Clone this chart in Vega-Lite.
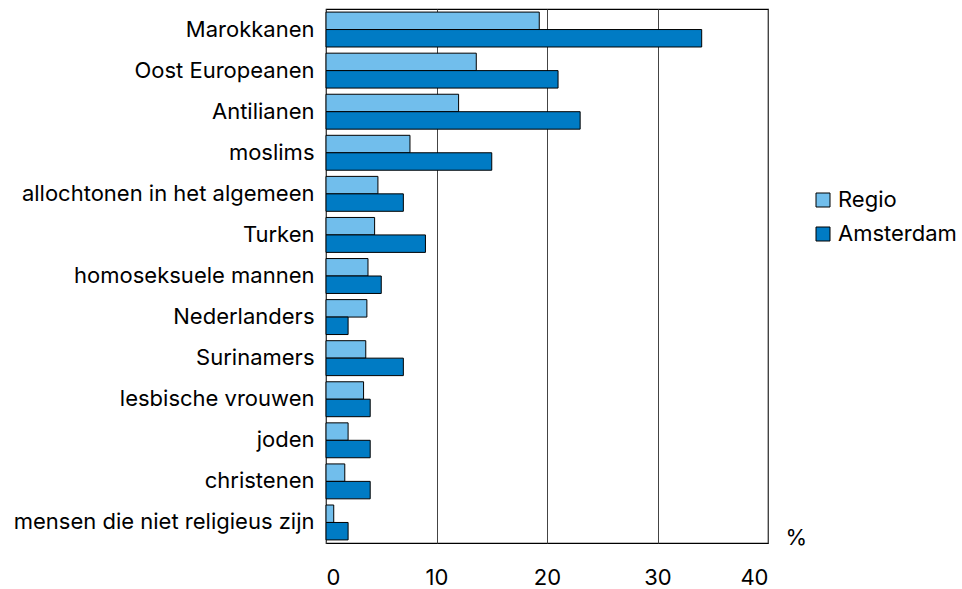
{
  "$schema": "https://vega.github.io/schema/vega-lite/v6.json",
  "autosize": {"type": "none"},
  "width": 442,
  "height": 534,
  "padding": {"left": 326, "top": 9, "right": 194, "bottom": 46},
  "background": "white",
  "config": {
    "font": "Inter",
    "view": {"stroke": "#000", "strokeWidth": 1.2}
  },
  "data": {
    "values": [
      {"groep": "Marokkanen", "bron": "Regio", "pct": 19.3},
      {"groep": "Marokkanen", "bron": "Amsterdam", "pct": 34.0},
      {"groep": "Oost Europeanen", "bron": "Regio", "pct": 13.6},
      {"groep": "Oost Europeanen", "bron": "Amsterdam", "pct": 21.0},
      {"groep": "Antilianen", "bron": "Regio", "pct": 12.0},
      {"groep": "Antilianen", "bron": "Amsterdam", "pct": 23.0},
      {"groep": "moslims", "bron": "Regio", "pct": 7.6},
      {"groep": "moslims", "bron": "Amsterdam", "pct": 15.0},
      {"groep": "allochtonen in het algemeen", "bron": "Regio", "pct": 4.7},
      {"groep": "allochtonen in het algemeen", "bron": "Amsterdam", "pct": 7.0},
      {"groep": "Turken", "bron": "Regio", "pct": 4.4},
      {"groep": "Turken", "bron": "Amsterdam", "pct": 9.0},
      {"groep": "homoseksuele mannen", "bron": "Regio", "pct": 3.8},
      {"groep": "homoseksuele mannen", "bron": "Amsterdam", "pct": 5.0},
      {"groep": "Nederlanders", "bron": "Regio", "pct": 3.7},
      {"groep": "Nederlanders", "bron": "Amsterdam", "pct": 2.0},
      {"groep": "Surinamers", "bron": "Regio", "pct": 3.6},
      {"groep": "Surinamers", "bron": "Amsterdam", "pct": 7.0},
      {"groep": "lesbische vrouwen", "bron": "Regio", "pct": 3.4},
      {"groep": "lesbische vrouwen", "bron": "Amsterdam", "pct": 4.0},
      {"groep": "joden", "bron": "Regio", "pct": 2.0},
      {"groep": "joden", "bron": "Amsterdam", "pct": 4.0},
      {"groep": "christenen", "bron": "Regio", "pct": 1.7},
      {"groep": "christenen", "bron": "Amsterdam", "pct": 4.0},
      {"groep": "mensen die niet religieus zijn", "bron": "Regio", "pct": 0.7},
      {"groep": "mensen die niet religieus zijn", "bron": "Amsterdam", "pct": 2.0}
    ]
  },
  "mark": {"type": "bar", "stroke": "#000", "strokeWidth": 1},
  "encoding": {
    "y": {
      "field": "groep",
      "type": "nominal",
      "sort": null,
      "scale": {"paddingInner": 0.15, "paddingOuter": 0.075},
      "axis": {
        "title": null,
        "ticks": false,
        "domain": false,
        "labelFontSize": 22,
        "labelColor": "#000",
        "labelPadding": 12,
        "labelLimit": 400
      }
    },
    "yOffset": {
      "field": "bron",
      "type": "nominal",
      "sort": ["Regio", "Amsterdam"]
    },
    "x": {
      "field": "pct",
      "type": "quantitative",
      "scale": {"domain": [0, 40], "nice": false},
      "axis": {
        "values": [0, 10, 20, 30, 40],
        "title": "%",
        "titleFontSize": 22,
        "titleFontWeight": "normal",
        "titleColor": "#000",
        "titleAnchor": "end",
        "titleAlign": "left",
        "titleBaseline": "alphabetic",
        "titleX": 459,
        "titleY": 1,
        "ticks": false,
        "domain": false,
        "grid": true,
        "gridColor": "#444",
        "gridWidth": 1,
        "labelFontSize": 22,
        "labelColor": "#000",
        "labelPadding": 24
      }
    },
    "color": {
      "field": "bron",
      "type": "nominal",
      "sort": ["Regio", "Amsterdam"],
      "scale": {"domain": ["Regio", "Amsterdam"], "range": ["#71BEEC", "#007BC4"]},
      "legend": {
        "title": null,
        "orient": "none",
        "legendX": 486,
        "legendY": 180,
        "padding": 0,
        "symbolType": "square",
        "symbolSize": 196,
        "symbolStrokeColor": "#000",
        "symbolStrokeWidth": 1,
        "labelFontSize": 22,
        "labelColor": "#000",
        "labelOffset": 4,
        "rowPadding": 12
      }
    }
  }
}
